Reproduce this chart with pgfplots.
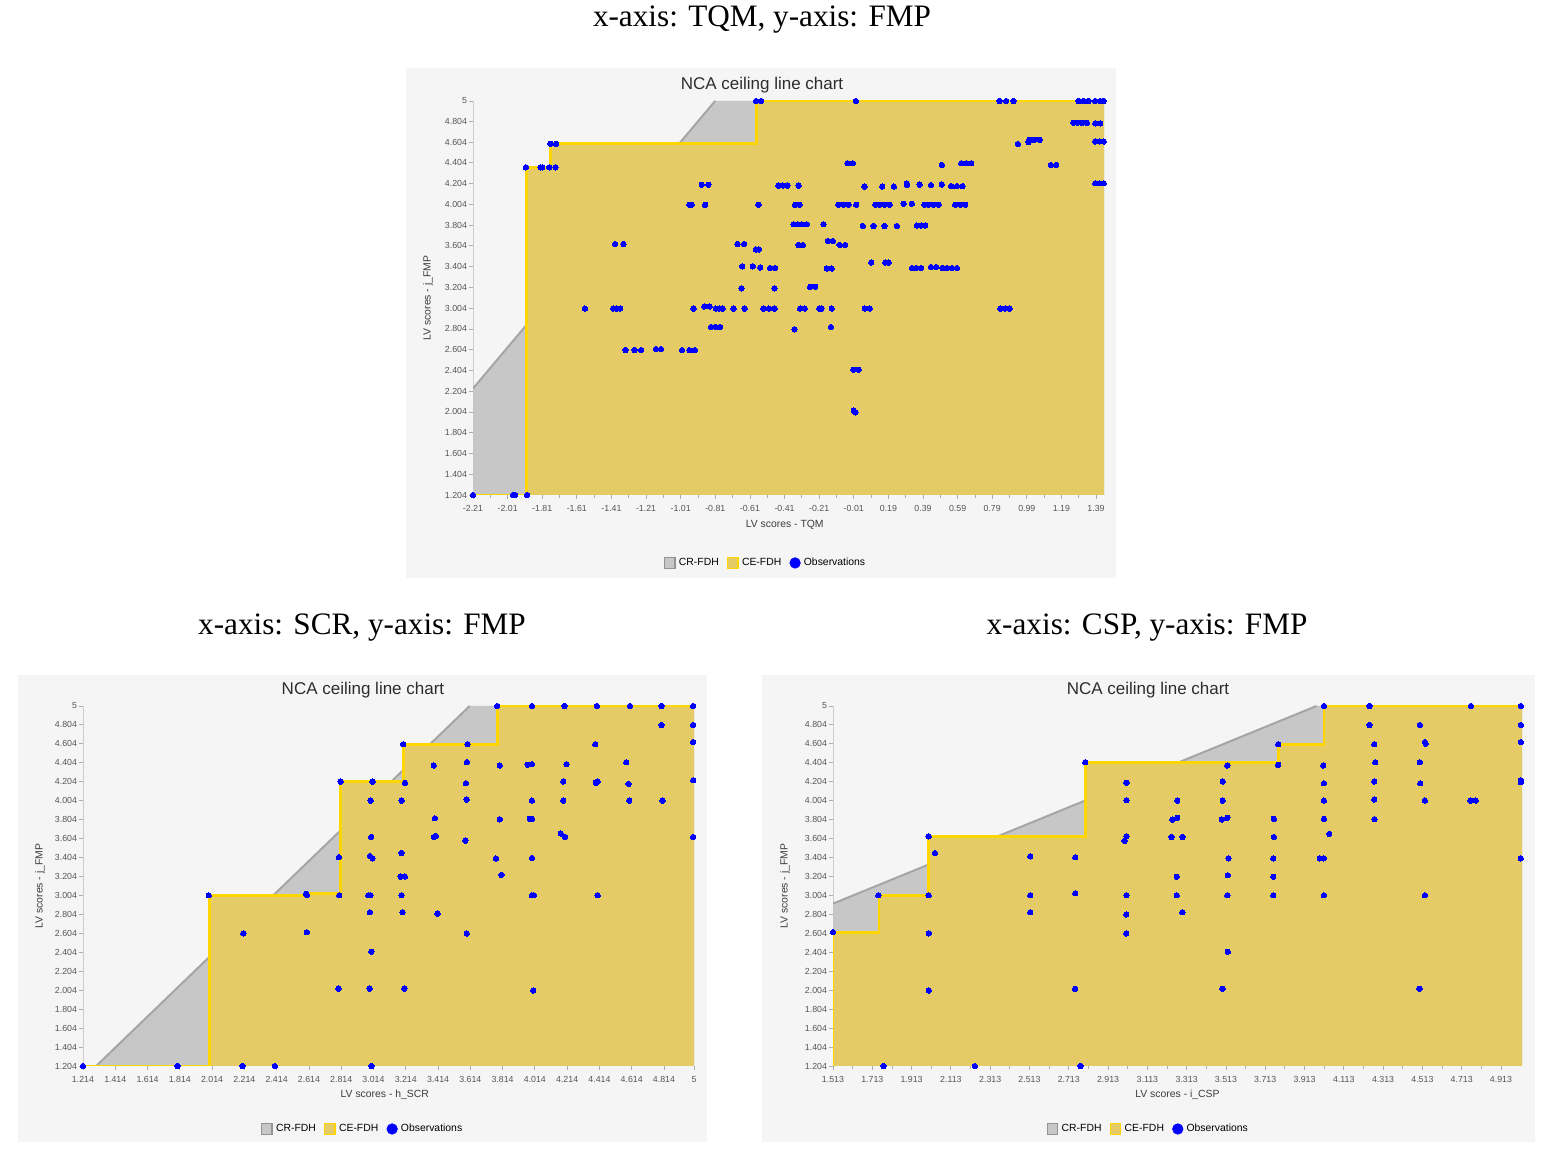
\documentclass[border=0pt]{standalone}
\usepackage{fontspec}
\setmainfont{Liberation Serif}
\newfontfamily\sans{Liberation Sans}
\usepackage{pgfplots}
\pgfplotsset{compat=1.18}

\definecolor{bgpanel}{RGB}{245,245,245}
\definecolor{crfill}{RGB}{199,199,199}
\definecolor{crline}{RGB}{165,165,165}
\definecolor{cefill}{RGB}{229,203,101}
\definecolor{celine}{RGB}{255,214,0}
\definecolor{obs}{RGB}{0,0,255}
\definecolor{ticktext}{RGB}{85,85,85}
\definecolor{labeltext}{RGB}{60,60,60}
\definecolor{titletext}{RGB}{45,45,45}
\definecolor{axisgray}{RGB}{205,205,205}

\pgfplotsset{
  ncaaxis/.style={
    scale only axis,
    axis x line*=bottom, axis y line*=left,
    axis line style={draw=axisgray, line width=0.5pt},
    tick align=outside,
    major tick length=2pt, minor tick length=1.6pt,
    tick style={draw=axisgray!85!black, line width=0.4pt},
    minor x tick num=1, minor y tick num=1,
    ymin=1.204, ymax=5,
    ytick={1.204,1.404,1.604,1.804,2.004,2.204,2.404,2.604,2.804,3.004,3.204,3.404,3.604,3.804,4.004,4.204,4.404,4.604,4.804,5},
    yticklabels={1.204,1.404,1.604,1.804,2.004,2.204,2.404,2.604,2.804,3.004,3.204,3.404,3.604,3.804,4.004,4.204,4.404,4.604,4.804,5},
    ticklabel style={font=\sans\fontsize{4.4}{5}\selectfont, text=ticktext},
    yticklabel style={inner sep=0.8pt},
    xticklabel style={inner sep=1pt, yshift=-1.9pt},
    label style={font=\sans\fontsize{5.2}{6}\selectfont, text=labeltext},
    ylabel={LV scores - j\_FMP},
    legend style={draw=none, fill=none, font=\sans\fontsize{5.2}{6}\selectfont,
      legend columns=3, anchor=center,
      /tikz/every even column/.append style={column sep=3.5pt},
      nodes={inner sep=0.6pt}},
    clip=true,
  },
  crarea/.style={fill=crfill, draw=none, forget plot},
  crdiag/.style={draw=crline, line width=1pt, forget plot},
  cearea/.style={fill=cefill, draw=none, forget plot},
  cestep/.style={draw=celine, line width=1.4pt, line join=miter, forget plot},
  obsmarks/.style={only marks, mark=*, mark size=1.35pt, mark options={fill=obs, draw=obs, line width=0pt}, forget plot},
}

\newcommand{\ncalegend}{%
  \addlegendimage{legend image code/.code={\draw[fill=crfill,draw=crline!90!black,line width=0.6pt] (0pt,-2.6pt) rectangle (5.2pt,2.6pt); \path (6.4pt,0pt);}}
  \addlegendentry{CR-FDH}
  \addlegendimage{legend image code/.code={\draw[fill=cefill,draw=celine,line width=0.6pt] (0pt,-2.6pt) rectangle (5.2pt,2.6pt); \path (6.4pt,0pt);}}
  \addlegendentry{CE-FDH}
  \addlegendimage{legend image code/.code={\fill[obs] (2.6pt,0pt) circle (2.6pt); \path (6.2pt,0pt);}}
  \addlegendentry{Observations}
}

\begin{document}
\begin{tikzpicture}[x=1pt,y=1pt]
\path[use as bounding box] (0,0) rectangle (773.5,575);

% panel backgrounds
\fill[bgpanel] (203,286) rectangle (558,541);
\fill[bgpanel] (9,4) rectangle (353.5,237.5);
\fill[bgpanel] (381,4) rectangle (767.5,237.5);

% captions
\node[font=\fontsize{15.6}{18}\selectfont] at (381,565) {x-axis: TQM, y-axis: FMP};
\node[font=\fontsize{15.6}{18}\selectfont] at (181,261) {x-axis: SCR, y-axis: FMP};
\node[font=\fontsize{15.6}{18}\selectfont] at (573.5,261) {x-axis: CSP, y-axis: FMP};

% titles
\node[font=\sans\fontsize{8.5}{10}\selectfont, text=titletext] at (381,532.5) {NCA ceiling line chart};
\node[font=\sans\fontsize{8.5}{10}\selectfont, text=titletext] at (181.5,230) {NCA ceiling line chart};
\node[font=\sans\fontsize{8.5}{10}\selectfont, text=titletext] at (574,230) {NCA ceiling line chart};

% ---------------- TOP: TQM ----------------
\begin{axis}[ncaaxis,
  at={(236.5pt,327.5pt)}, anchor=south west,
  width=315.5pt, height=197pt,
  xmin=-2.21, xmax=1.436,
  xtick={-2.21,-2.01,-1.81,-1.61,-1.41,-1.21,-1.01,-0.81,-0.61,-0.41,-0.21,-0.01,0.19,0.39,0.59,0.79,0.99,1.19,1.39},
  xticklabels={-2.21,-2.01,-1.81,-1.61,-1.41,-1.21,-1.01,-0.81,-0.61,-0.41,-0.21,-0.01,0.19,0.39,0.59,0.79,0.99,1.19,1.39},
  xlabel={LV scores - TQM},
  xlabel style={at={(axis description cs:0.494,-0.076)}, anchor=center},
  ylabel style={at={(axis description cs:-0.0713,0.5)}, anchor=center},
  legend style={at={(0.463,-0.1725)}},
]
\ncalegend
\addplot[crarea] coordinates {(-2.21,1.204) (-2.21,2.23) (-0.811,5) (1.436,5) (1.436,1.204)};
\addplot[crdiag] coordinates {(-2.21,2.23) (-0.811,5)};
\addplot[cearea] coordinates {(-2.21,1.204) (-1.90,1.204) (-1.90,4.361) (-1.763,4.361) (-1.763,4.588) (-0.574,4.588) (-0.574,5) (1.436,5) (1.436,1.204)};
\addplot[cestep] coordinates {(-2.21,1.204) (-1.90,1.204) (-1.90,4.361) (-1.763,4.361) (-1.763,4.588) (-0.574,4.588) (-0.574,5) (1.436,5)};
\addplot[obsmarks] coordinates {
(-0.574,5) (-0.545,5) (0.002,5) (0.832,5) (0.871,5) (0.913,5) (1.289,5) (1.318,5) (1.347,5) (1.385,5) (1.414,5) (1.434,5)
(1.26,4.79) (1.283,4.79) (1.308,4.79) (1.337,4.79) (1.385,4.785) (1.414,4.785)
(0.938,4.586) (1.00,4.605) (1.006,4.625) (1.033,4.625) (1.064,4.625) (1.385,4.61) (1.41,4.61) (1.434,4.61)
(-1.763,4.588) (-1.73,4.588)
(-1.904,4.361) (-1.82,4.361) (-1.81,4.361) (-1.77,4.361) (-1.733,4.361)
(-0.046,4.40) (-0.015,4.40) (0.499,4.384) (0.611,4.40) (0.64,4.40) (0.669,4.40) (1.129,4.384) (1.16,4.384)
(-0.888,4.193) (-0.85,4.193) (1.385,4.207) (1.41,4.207) (1.434,4.207)
(-0.445,4.185) (-0.42,4.185) (-0.393,4.185) (-0.329,4.185) (0.052,4.175) (0.154,4.175) (0.222,4.175) (0.297,4.19) (0.297,4.205) (0.37,4.195) (0.436,4.19) (0.499,4.195) (0.553,4.18) (0.586,4.18) (0.619,4.18)
(-0.96,4.0) (-0.946,4.0) (-0.869,4.0) (-0.561,4.0)
(-0.349,4.0) (-0.324,4.0) (-0.098,4.0) (-0.069,4.0) (-0.04,4.0) (0.004,4.0) (0.114,4.0) (0.139,4.0) (0.166,4.0) (0.197,4.0) (0.278,4.01) (0.326,4.01) (0.397,4.0) (0.422,4.0) (0.451,4.0) (0.48,4.0) (0.576,4.0) (0.605,4.0) (0.634,4.0)
(-0.358,3.812) (-0.333,3.812) (-0.31,3.812) (-0.281,3.812) (-0.185,3.812) (0.042,3.796) (0.104,3.796) (0.168,3.796) (0.239,3.796) (0.355,3.8) (0.38,3.8) (0.403,3.8)
(-1.389,3.622) (-1.341,3.622) (-0.682,3.622) (-0.643,3.622) (-0.329,3.613) (-0.304,3.613) (-0.16,3.651) (-0.131,3.651) (-0.092,3.613) (-0.06,3.613)
(-0.575,3.57) (-0.558,3.57)
(0.091,3.443) (0.172,3.443) (0.191,3.443)
(-0.655,3.407) (-0.593,3.407) (-0.551,3.395) (-0.493,3.391) (-0.464,3.391) (-0.166,3.385) (-0.137,3.385) (0.326,3.391) (0.351,3.391) (0.38,3.391) (0.436,3.40) (0.466,3.40) (0.503,3.391) (0.528,3.391) (0.557,3.391) (0.586,3.391)
(-0.659,3.195) (-0.468,3.195) (-0.262,3.21) (-0.233,3.21)
(-1.563,3.0) (-1.40,3.0) (-1.38,3.0) (-1.36,3.0) (-0.936,3.0) (-0.874,3.02) (-0.843,3.02) (-0.806,3.0) (-0.787,3.0) (-0.768,3.0) (-0.705,3.0) (-0.641,3.0) (-0.532,3.0) (-0.50,3.0) (-0.468,3.0) (-0.32,3.0) (-0.293,3.0) (-0.208,3.0) (-0.197,3.0) (-0.137,3.0) (0.054,3.0) (0.083,3.0) (0.837,3.0) (0.864,3.0) (0.89,3.0)
(-0.835,2.823) (-0.808,2.823) (-0.782,2.823) (-0.352,2.80) (-0.142,2.823)
(-1.329,2.601) (-1.276,2.601) (-1.238,2.601) (-1.153,2.61) (-1.124,2.61) (-1.002,2.60) (-0.96,2.60) (-0.928,2.60)
(-0.012,2.411) (0.017,2.411)
(-0.01,2.017) (-0.001,2.0)
(-2.21,1.204) (-1.979,1.204) (-1.966,1.204) (-1.897,1.204)
};
\end{axis}

% ---------------- BOTTOM LEFT: SCR ----------------
\begin{axis}[ncaaxis,
  at={(41.5pt,42pt)}, anchor=south west,
  width=305.5pt, height=180pt,
  xmin=1.214, xmax=5,
  xtick={1.214,1.414,1.614,1.814,2.014,2.214,2.414,2.614,2.814,3.014,3.214,3.414,3.614,3.814,4.014,4.214,4.414,4.614,4.814,5},
  xticklabels={1.214,1.414,1.614,1.814,2.014,2.214,2.414,2.614,2.814,3.014,3.214,3.414,3.614,3.814,4.014,4.214,4.414,4.614,4.814,5},
  xlabel={LV scores - h\_SCR},
  xlabel style={at={(axis description cs:0.494,-0.081)}, anchor=center},
  ylabel style={at={(axis description cs:-0.0704,0.5)}, anchor=center},
  legend style={at={(0.457,-0.175)}},
]
\ncalegend
\addplot[crarea] coordinates {(1.296,1.204) (3.61,5) (5,5) (5,1.204)};
\addplot[crdiag] coordinates {(1.296,1.204) (3.61,5)};
\addplot[cearea] coordinates {(1.214,1.204) (1.996,1.204) (1.996,3.004) (2.6,3.004) (2.6,3.02) (2.81,3.02) (2.81,4.204) (3.198,4.204) (3.198,4.597) (3.781,4.597) (3.781,5) (5,5) (5,1.204)};
\addplot[cestep] coordinates {(1.214,1.204) (1.996,1.204) (1.996,3.004) (2.6,3.004) (2.6,3.02) (2.81,3.02) (2.81,4.204) (3.198,4.204) (3.198,4.597) (3.781,4.597) (3.781,5) (5,5)};
\addplot[obsmarks] coordinates {
(1.214,1.204) (1.80,1.204) (2.203,1.204) (2.402,1.204) (3.001,1.204)
(1.993,3.004) (2.596,3.02) (2.602,3.004) (2.802,3.004) (2.80,3.405) (2.81,4.203)
(2.208,2.603) (2.601,2.614) (3.592,2.60)
(3.001,2.409)
(2.797,2.02) (2.99,2.02) (3.205,2.02) (4.003,2.0)
(2.992,2.825) (3.194,2.825) (3.411,2.81)
(2.982,3.004) (2.996,3.004) (3.188,3.004) (3.996,3.004) (4.008,3.004) (4.403,3.004)
(3.182,3.201) (3.209,3.201) (3.806,3.218)
(2.992,3.419) (3.008,3.394) (3.188,3.45) (3.773,3.391) (3.996,3.398)
(3.0,3.619) (3.388,3.619) (3.40,3.63) (3.583,3.58) (4.175,3.654) (4.202,3.619) (4.995,3.619)
(3.395,3.816) (3.797,3.805) (3.983,3.81) (3.996,3.81)
(2.996,4.002) (3.188,4.002) (3.591,4.013) (3.996,4.002) (4.19,4.002) (4.599,4.002) (4.805,4.002)
(3.008,4.203) (3.209,4.189) (3.587,4.185) (4.19,4.203) (4.392,4.19) (4.403,4.203) (4.595,4.178) (4.995,4.217)
(3.388,4.372) (3.797,4.372) (3.969,4.38) (3.996,4.386) (4.21,4.386)
(3.593,4.407) (4.58,4.407)
(3.198,4.597) (3.597,4.597) (4.388,4.597)
(4.995,4.62)
(4.799,4.80) (4.995,4.80)
(3.781,5) (3.996,5) (4.198,5) (4.398,5) (4.603,5) (4.799,5) (4.995,5)
};
\end{axis}

% ---------------- BOTTOM RIGHT: CSP ----------------
\begin{axis}[ncaaxis,
  at={(416.5pt,42pt)}, anchor=south west,
  width=344.5pt, height=180pt,
  xmin=1.513, xmax=5.02,
  xtick={1.513,1.713,1.913,2.113,2.313,2.513,2.713,2.913,3.113,3.313,3.513,3.713,3.913,4.113,4.313,4.513,4.713,4.913},
  xticklabels={1.513,1.713,1.913,2.113,2.313,2.513,2.713,2.913,3.113,3.313,3.513,3.713,3.913,4.113,4.313,4.513,4.713,4.913},
  xlabel={LV scores - i\_CSP},
  xlabel style={at={(axis description cs:0.5,-0.081)}, anchor=center},
  ylabel style={at={(axis description cs:-0.0697,0.5)}, anchor=center},
  legend style={at={(0.457,-0.175)}},
]
\ncalegend
\addplot[crarea] coordinates {(1.513,1.204) (1.513,2.916) (3.974,5) (5.02,5) (5.02,1.204)};
\addplot[crdiag] coordinates {(1.513,2.916) (3.974,5)};
\addplot[cearea] coordinates {(1.513,1.204) (1.513,2.615) (1.747,2.615) (1.747,3.004) (2.0,3.004) (2.0,3.626) (2.797,3.626) (2.797,4.407) (3.779,4.407) (3.779,4.597) (4.012,4.597) (4.012,5) (5.02,5) (5.02,1.204)};
\addplot[cestep] coordinates {(1.513,1.204) (1.513,2.615) (1.747,2.615) (1.747,3.004) (2.0,3.004) (2.0,3.626) (2.797,3.626) (2.797,4.407) (3.779,4.407) (3.779,4.597) (4.012,4.597) (4.012,5) (5.02,5)};
\addplot[obsmarks] coordinates {
(1.77,1.204) (2.235,1.204) (2.773,1.204)
(1.513,2.614) (2.001,2.603) (2.001,2.0) (2.517,2.825) (3.005,2.80) (3.005,2.60) (3.291,2.825) (3.523,2.409) (2.745,2.018) (3.495,2.018) (4.498,2.018)
(1.744,3.004) (2.0,3.004) (2.0,3.626) (2.032,3.45) (2.517,3.415) (2.517,3.004) (2.746,3.405) (2.746,3.025) (2.797,4.407)
(3.007,4.189) (3.007,4.006) (3.007,3.626) (2.997,3.577) (3.007,3.004)
(3.779,4.379) (3.779,4.597)
(4.012,5) (4.244,5) (4.76,5) (5.014,5)
(4.244,4.80) (4.5,4.80) (5.014,4.80)
(5.014,4.62) (4.268,4.597) (4.526,4.62) (4.529,4.604)
(4.273,4.407) (4.5,4.407)
(3.52,4.372) (4.008,4.372)
(3.497,4.203) (4.012,4.185) (4.268,4.203) (4.502,4.185) (5.014,4.217) (5.014,4.196)
(3.265,4.002) (3.497,4.002) (4.012,4.002) (4.268,4.013) (4.526,4.002) (4.758,4.002) (4.785,4.002)
(3.24,3.802) (3.265,3.82) (3.492,3.802) (3.52,3.82) (3.757,3.81) (4.012,3.81) (4.269,3.806)
(3.236,3.619) (3.292,3.619) (3.757,3.619) (4.039,3.651)
(3.526,3.394) (3.754,3.394) (3.991,3.394) (4.012,3.394) (5.014,3.394)
(3.523,3.215) (3.263,3.2) (3.754,3.2)
(3.263,3.004) (3.52,3.004) (3.754,3.004) (4.012,3.004) (4.526,3.004)
};
\end{axis}
\end{tikzpicture}
\end{document}
